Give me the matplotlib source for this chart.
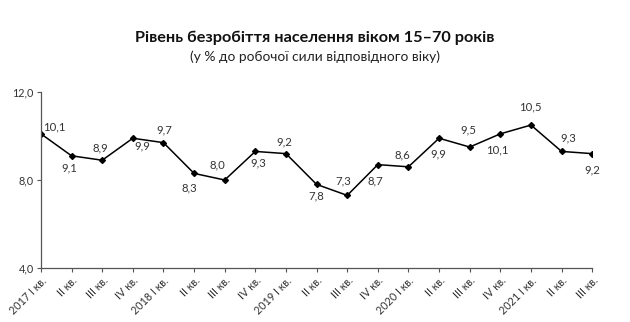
import matplotlib.pyplot as plt
import numpy as np

plt.rcParams['font.family'] = ['Lato', 'DejaVu Sans']

# quarterly unemployment rate, %
quarters = ["2017 I кв.", "II кв.", "III кв.", "IV кв.",
            "2018 I кв.", "II кв.", "III кв.", "IV кв.",
            "2019 I кв.", "II кв.", "III кв.", "IV кв.",
            "2020 I кв.", "II кв.", "III кв.", "IV кв.",
            "2021 I кв.", "II кв.", "III кв."]
rate = [10.1, 9.1, 8.9, 9.9, 9.7, 8.3, 8.0, 9.3, 9.2, 7.8,
        7.3, 8.7, 8.6, 9.9, 9.5, 10.1, 10.5, 9.3, 9.2]
yticks = [4.0, 8.0, 12.0]

# label offsets in pixels (dx, dy), hand placed like the original
offsets = [(13, 7), (-2, -12), (-2, 12), (9, -8), (1, 13), (-5, -15),
           (-7, 15), (3, -11), (-2, 12), (0, -12), (-4, 14), (-2, -16),
           (-6, 12), (-1, -16), (-1, 17), (-3, -16), (-1, 18), (7, 14),
           (0, -16)]

txt = "#333333"
fig = plt.figure(figsize=(6.3, 3.22), dpi=100)
ax = fig.add_axes([0.065, 0.168, 0.875, 0.546])

x = np.arange(len(rate))
ax.plot(x, rate, color="black", lw=1.1, marker="D", ms=3, mec="black", mfc="black")

for xi, v, (dx, dy) in zip(x, rate, offsets):
    ax.annotate(f"{v:.1f}".replace(".", ","), (xi, v), xytext=(dx, dy),
                textcoords="offset pixels", ha="center", va="center",
                fontsize=8.2, color=txt)

ax.set_xlim(0, len(rate) - 1)
ax.set_ylim(4, 12)
ax.set_yticks(yticks)
ax.set_yticklabels([f"{t:.1f}".replace(".", ",") for t in yticks], fontsize=7.8, color=txt)
ax.set_xticks(x)
ax.set_xticklabels(quarters, rotation=45, ha="right", rotation_mode="anchor",
                   fontsize=7.8, color=txt)
ax.tick_params(axis="both", length=3, color="#555555", width=0.8)
ax.tick_params(axis="y", pad=2)
ax.tick_params(axis="x", pad=2)
for s in ["top", "right"]:
    ax.spines[s].set_visible(False)
for s in ["left", "bottom"]:
    ax.spines[s].set_color("#555555")
    ax.spines[s].set_linewidth(0.9)

fig.text(0.5, 0.883, "Рівень безробіття населення віком 15–70 років",
         ha="center", va="center", fontsize=11.7, fontweight="bold", color="#111111")
fig.text(0.5, 0.823, "(у % до робочої сили відповідного віку)",
         ha="center", va="center", fontsize=9.9, color="#222222")

fig.savefig("out.png", dpi=100)
